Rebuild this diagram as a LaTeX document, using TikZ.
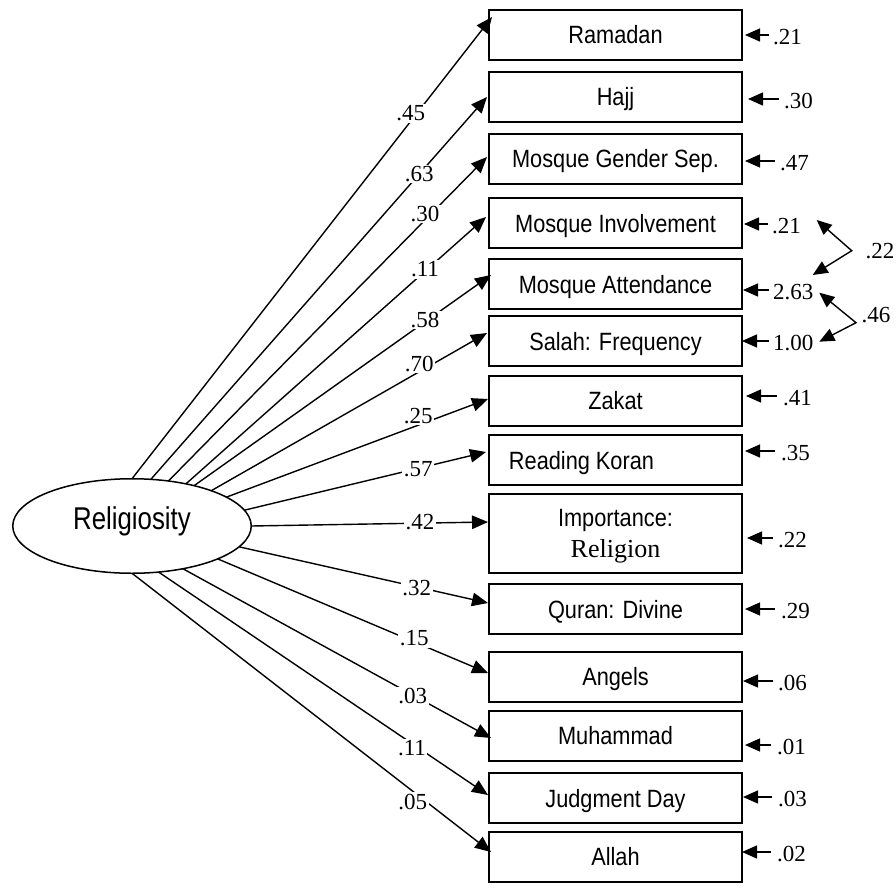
\documentclass[tikz,border=0pt]{standalone}
\usepackage{fontspec}
\setmainfont{Liberation Serif}
\newfontfamily\boxfont[FakeStretch=0.87]{Liberation Sans}
\newfontfamily\relfont[FakeStretch=0.82]{Liberation Sans}
\usetikzlibrary{arrows.meta,shapes.geometric}
\begin{document}
\begin{tikzpicture}[x=1pt,y=-1pt,
 obs/.style={draw, line width=2pt, rectangle, minimum width=253pt, minimum height=50pt, inner sep=0pt, outer sep=0pt, font=\fontsize{25}{30.7}\boxfont, text height=18pt, text depth=0pt},
 lat/.style={draw, ellipse, line width=1.5pt, minimum width=238.5pt, minimum height=94.5pt, inner sep=0pt, outer sep=0pt, font=\fontsize{31.5}{36}\relfont, text height=22.5pt, text depth=16.5pt},
 load/.style={line width=1.4pt, -{Triangle[length=16pt,width=13.5pt]}},
 err/.style={line width=1.4pt, -{Triangle[length=15pt,width=13pt]}},
 cov/.style={line width=1.4pt, {Triangle[length=15pt,width=13pt]}-{Triangle[length=15pt,width=13pt]}},
 coef/.style={fill=white, inner sep=1.5pt, font=\fontsize{23}{26}\selectfont},
 evar/.style={anchor=west, inner sep=0pt, font=\fontsize{23}{26}\selectfont}
]
\useasboundingbox (0,0) rectangle (896,888);

% latent
\node[lat] (rel) at (132,526) {Religiosity};

% observed
\node[obs] (b1) at (615.5,35) {Ramadan};
\node[obs] (b2) at (615.5,97) {Hajj};
\node[obs] (b3) at (615.5,158.5) {Mosque Gender Sep.};
\node[obs] (b4) at (615.5,223) {Mosque Involvement};
\node[obs] (b5) at (615.5,284) {Mosque Attendance};
\node[obs] (b6) at (615.5,341) {Salah: Frequency};
\node[obs] (b7) at (615.5,400.5) {Zakat};
\node[obs] (b8) at (615.5,460) {\hspace*{-68pt}Reading Koran};
\node[obs, minimum height=79pt, align=center, text height=, text depth=0pt] (b9) at (615.5,533.5) {Importance:\\{\rmfamily\fontsize{26}{30}\selectfont Religion}};
\node[obs] (b10) at (615.5,609) {Quran: Divine};
\node[obs] (b11) at (615.5,676.5) {Angels};
\node[obs] (b12) at (615.5,735.5) {Muhammad};
\node[obs] (b13) at (615.5,798) {Judgment Day};
\node[obs] (b14) at (615.5,856.5) {Allah};

% loadings
\draw[load] (rel.90)    -- ([xshift=3pt,yshift=18pt]b1.west);
\draw[load] (rel.68)    -- ([xshift=-2pt,yshift=0pt]b2.west);
\draw[load] (rel.51)    -- ([xshift=-2pt,yshift=1.5pt]b3.west);
\draw[load] (rel.38)    -- ([xshift=-3pt,yshift=6pt]b4.west);
\draw[load] (rel.33)    -- ([xshift=2pt,yshift=9pt]b5.west);
\draw[load] (rel.24)    -- ([xshift=-2pt,yshift=8pt]b6.west);
\draw[load] (rel.17.6)  -- ([xshift=-1pt,yshift=1.5pt]b7.west);
\draw[load] (rel.8.3)   -- ([xshift=-3pt,yshift=8pt]b8.west);
\draw[load] (rel.0)     -- ([xshift=-1pt,yshift=11.5pt]b9.west);
\draw[load] (rel.-11.7) -- ([xshift=-1pt,yshift=6pt]b10.west);
\draw[load] (rel.-21)   -- ([xshift=-1pt,yshift=3.5pt]b11.west);
\draw[load] (rel.-40.5) -- ([xshift=2pt,yshift=-2.5pt]b12.west);
\draw[load] (rel.-60.4) -- ([xshift=-1pt,yshift=3pt]b13.west);
\draw[load] (rel.-90)   -- ([xshift=2pt,yshift=4.5pt]b14.west);

% loading coefficients
\node[coef] (l1)  at (410.7,113.3) {.45};
\node[coef] (l2)  at (419.3,174)   {.63};
\node[coef] (l3)  at (425,214)     {.30};
\node[coef] (l4)  at (425,269.3)   {.11};
\node[coef] (l5)  at (425,320)     {.58};
\node[coef] (l6)  at (419.3,364)   {.70};
\node[coef] (l7)  at (418.3,416)   {.25};
\node[coef] (l8)  at (418.3,469.3) {.57};
\node[coef] (l9)  at (420,521.7)   {.42};
\node[coef] (l10) at (416.7,588.3) {.32};
\node[coef] (l11) at (414.3,638.3) {.15};
\node[coef] (l12) at (412.7,696)   {.03};
\node[coef] (l13) at (412,748.3)   {.11};
\node[coef] (l14) at (412.7,801.7) {.05};

% error variances
\node[evar] (e1)  at (773,37)  {.21};
\node[evar] (e2)  at (784,101) {.30};
\node[evar] (e3)  at (780,163) {.47};
\node[evar] (e4)  at (772,226) {.21};
\node[evar] (e5)  at (773,292) {2.63};
\node[evar] (e6)  at (773,343) {1.00};
\node[evar] (e7)  at (783,398) {.41};
\node[evar] (e8)  at (781,453) {.35};
\node[evar] (e9)  at (778,540) {.22};
\node[evar] (e10) at (781,611) {.29};
\node[evar] (e11) at (778,683) {.06};
\node[evar] (e12) at (777,747) {.01};
\node[evar] (e13) at (778,799) {.03};
\node[evar] (e14) at (777,854) {.02};

\draw[err] ([xshift=-4pt,yshift=2pt]e1.west)  -- ([xshift=3pt,yshift=0pt]b1.east);
\draw[err] ([xshift=-5pt,yshift=2pt]e2.west)  -- ([xshift=6pt,yshift=-2pt]b2.east);
\draw[err] ([xshift=-5pt,yshift=2pt]e3.west)  -- ([xshift=3pt,yshift=-2.5pt]b3.east);
\draw[err] ([xshift=-4pt,yshift=2pt]e4.west)  -- ([xshift=2pt,yshift=-1pt]b4.east);
\draw[err] ([xshift=-4pt,yshift=2pt]e5.west)  -- ([xshift=1pt,yshift=-6pt]b5.east);
\draw[err] ([xshift=-4pt,yshift=2pt]e6.west)  -- ([xshift=0pt,yshift=0pt]b6.east);
\draw[err] ([xshift=-6pt,yshift=2pt]e7.west)  -- ([xshift=4pt,yshift=4.5pt]b7.east);
\draw[err] ([xshift=-6pt,yshift=2pt]e8.west)  -- ([xshift=3pt,yshift=9pt]b8.east);
\draw[err] ([xshift=-5pt,yshift=2pt]e9.west)  -- ([xshift=5pt,yshift=-4.5pt]b9.east);
\draw[err] ([xshift=-6pt,yshift=2pt]e10.west) -- ([xshift=3pt,yshift=0pt]b10.east);
\draw[err] ([xshift=-5pt,yshift=2pt]e11.west) -- ([xshift=1pt,yshift=-4.5pt]b11.east);
\draw[err] ([xshift=-6pt,yshift=2pt]e12.west) -- ([xshift=3pt,yshift=-9.5pt]b12.east);
\draw[err] ([xshift=-6pt,yshift=2pt]e13.west) -- ([xshift=1pt,yshift=1pt]b13.east);
\draw[err] ([xshift=-6pt,yshift=2pt]e14.west) -- ([xshift=0pt,yshift=4.5pt]b14.east);

% covariances
\coordinate (c1a) at (816.7,220);
\coordinate (c1v) at (851.7,250.7);
\coordinate (c1b) at (812.7,275);
\coordinate (c2a) at (819.3,292.7);
\coordinate (c2v) at (856,322.7);
\coordinate (c2b) at (819.3,341.7);
\draw[cov] (c1a) -- (c1v) -- (c1b);
\draw[cov] (c2a) -- (c2v) -- (c2b);
\node[evar, anchor=center] (k1) at (880,251) {.22};
\node[evar, anchor=center] (k2) at (876,315) {.46};
\end{tikzpicture}
\end{document}
